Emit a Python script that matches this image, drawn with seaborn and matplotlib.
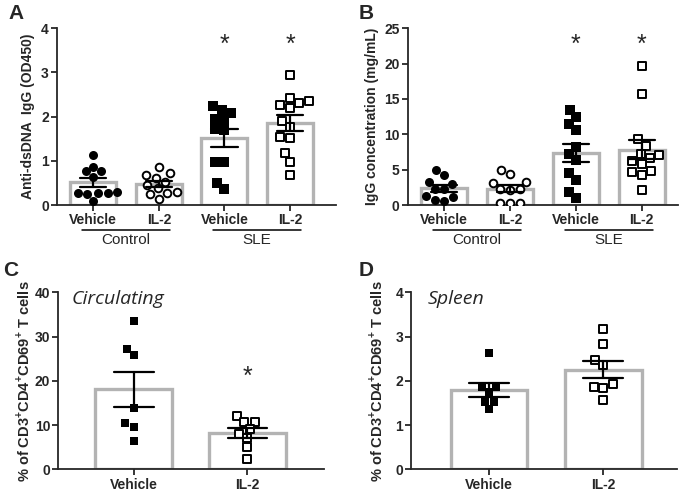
import numpy as np
import pandas as pd
import seaborn as sns
import matplotlib.pyplot as plt

# ---- data ----
groups_ab = ['Control Vehicle', 'Control IL-2', 'SLE Vehicle', 'SLE IL-2']
groups_cd = ['Vehicle', 'IL-2']

# A: anti-dsDNA IgG (OD450)
a_ctrl_veh = [1.13, 0.87, 0.76, 0.76, 0.64, 0.30, 0.28, 0.28, 0.27, 0.26, 0.10]
a_ctrl_il2 = [0.85, 0.72, 0.67, 0.60, 0.53, 0.45, 0.38, 0.30, 0.27, 0.24, 0.14]
a_sle_veh = [2.23, 2.16, 2.08, 1.95, 1.93, 1.72, 1.70, 0.98, 0.98, 0.49, 0.36]
a_sle_il2 = [2.95, 2.42, 2.35, 2.31, 2.27, 2.20, 1.89, 1.77, 1.54, 1.52, 1.17, 0.98, 0.67]

# B: IgG concentration (mg/mL)
b_ctrl_veh = [4.9, 4.2, 3.3, 3.0, 2.3, 2.2, 1.3, 1.2, 0.7, 0.6]
b_ctrl_il2 = [4.9, 4.4, 3.3, 3.1, 2.2, 2.1, 2.2, 0.3, 0.3, 0.3]
b_sle_veh = [13.4, 12.4, 11.4, 10.6, 8.2, 7.2, 6.4, 4.5, 3.6, 1.9, 1.0]
b_sle_il2 = [19.7, 15.7, 9.3, 8.4, 7.2, 7.0, 6.6, 6.2, 5.8, 4.8, 4.6, 4.2, 2.1]

# C: circulating CD69+ T cells (%)
c_veh = [33.5, 27.1, 25.8, 13.9, 10.4, 9.6, 6.5]
c_il2 = [12.1, 10.8, 10.8, 9.1, 7.9, 7.1, 5.0, 2.3]

# D: spleen CD69+ T cells (%)
d_veh = [2.62, 1.87, 1.87, 1.75, 1.53, 1.53, 1.36]
d_il2 = [3.17, 2.83, 2.47, 2.37, 1.92, 1.87, 1.85, 1.57]

sns.set_style('ticks')
plt.rcParams['font.family'] = ['Liberation Sans', 'DejaVu Sans']
plt.rcParams['mathtext.fontset'] = 'custom'
plt.rcParams['mathtext.rm'] = 'Liberation Sans:bold'
plt.rcParams['mathtext.bf'] = 'Liberation Sans:bold'

BAR_EDGE = '#b3b3b3'
# marker style per group position: (marker, filled)
STYLES = [('o', True), ('o', False), ('s', True), ('s', False)]


def make_df(order, series):
    rows = []
    for g, vals in zip(order, series):
        for v in vals:
            rows.append({'group': g, 'val': v})
    return pd.DataFrame(rows)


def draw_panel(ax, order, series, styles, ylim, yticks, ylabel, width, capsize,
               msize, ylab_size=10):
    df = make_df(order, series)
    sns.barplot(data=df, x='group', y='val', order=order, ax=ax,
                color='white', saturation=1, edgecolor=BAR_EDGE, linewidth=2.4,
                width=width, errorbar='se', capsize=capsize,
                err_kws={'color': 'black', 'linewidth': 1.6, 'zorder': 5})
    for g, (mk, filled) in zip(order, styles):
        sub = df[df['group'] == g]
        if filled:
            sns.swarmplot(data=sub, x='group', y='val', order=order, ax=ax,
                          marker=mk, color='black', size=msize, linewidth=0, zorder=3)
        else:
            sns.swarmplot(data=sub, x='group', y='val', order=order, ax=ax,
                          marker=mk, color='white', edgecolor='black',
                          size=msize - 1, linewidth=1.4, zorder=3)
    ax.set_ylim(*ylim)
    ax.set_yticks(yticks)
    ax.set_xlabel('')
    ax.set_ylabel(ylabel, fontsize=ylab_size, fontweight='bold', labelpad=4)
    sns.despine(ax=ax)
    for s in ['left', 'bottom']:
        ax.spines[s].set_linewidth(1.3)
    ax.tick_params(axis='both', width=1.3, length=4, labelsize=10, pad=2)
    for lab in ax.get_yticklabels() + ax.get_xticklabels():
        lab.set_fontweight('bold')


def add_star(ax, xpos, y):
    ax.text(xpos, y, '*', ha='center', va='center', fontsize=18)


def group_lines(ax, names):
    for i, name in enumerate(names):
        c = 2 * i + 0.5
        ax.plot([c - 0.67, c + 0.67], [-0.14, -0.14], color='black', lw=1.1,
                transform=ax.get_xaxis_transform(), clip_on=False)
        ax.text(c, -0.16, name, ha='center', va='top', fontsize=11,
                transform=ax.get_xaxis_transform())


fig = plt.figure(figsize=(6.8, 4.94), dpi=100)

axA = fig.add_axes([0.084, 0.585, 0.41, 0.358])
axB = fig.add_axes([0.600, 0.585, 0.397, 0.358])
axC = fig.add_axes([0.086, 0.050, 0.390, 0.358])
axD = fig.add_axes([0.605, 0.050, 0.390, 0.358])

draw_panel(axA, groups_ab, [a_ctrl_veh, a_ctrl_il2, a_sle_veh, a_sle_il2], STYLES,
           (0, 4), [0, 1, 2, 3, 4], 'Anti-dsDNA  IgG (OD450)', 0.7, 0.4, 6.5)
axA.set_xlim(-0.55, 3.7)
axA.set_xticks(range(4))
axA.set_xticklabels(['Vehicle', 'IL-2', 'Vehicle', 'IL-2'], fontweight='bold')
add_star(axA, 2, 3.63)
add_star(axA, 3, 3.63)
group_lines(axA, ['Control', 'SLE'])

draw_panel(axB, groups_ab, [b_ctrl_veh, b_ctrl_il2, b_sle_veh, b_sle_il2], STYLES,
           (0, 25), [0, 5, 10, 15, 20, 25], 'IgG concentration (mg/mL)', 0.7, 0.4, 6.5)
axB.set_xlim(-0.55, 3.55)
axB.set_xticks(range(4))
axB.set_xticklabels(['Vehicle', 'IL-2', 'Vehicle', 'IL-2'], fontweight='bold')
add_star(axB, 2, 22.6)
add_star(axB, 3, 22.6)
group_lines(axB, ['Control', 'SLE'])

ylab_cd = '% of CD3$^{+}$CD4$^{+}$CD69$^{+}$ T cells'
draw_panel(axC, groups_cd, [c_veh, c_il2], [STYLES[2], STYLES[3]],
           (0, 40), [0, 10, 20, 30, 40], ylab_cd, 0.67, 0.35, 6.2, ylab_size=10.5)
axC.set_xlim(-0.66, 1.67)
axC.set_xticklabels(groups_cd, fontweight='bold')
axC.yaxis.set_label_coords(-0.098, 0.5)
add_star(axC, 1, 20.8)
axC.text(0.05, 0.965, 'Circulating', transform=axC.transAxes, ha='left', va='center',
         fontsize=14, style='italic', family=['Open Sans', 'DejaVu Sans'])

draw_panel(axD, groups_cd, [d_veh, d_il2], [STYLES[2], STYLES[3]],
           (0, 4), [0, 1, 2, 3, 4], ylab_cd, 0.67, 0.35, 6.2, ylab_size=10.5)
axD.set_xlim(-0.68, 1.64)
axD.set_xticklabels(groups_cd, fontweight='bold')
axD.yaxis.set_label_coords(-0.098, 0.5)
axD.text(0.06, 0.965, 'Spleen', transform=axD.transAxes, ha='left', va='center',
         fontsize=14, style='italic', family=['Open Sans', 'DejaVu Sans'])

for lab, x, y in [('A', 0.012, 0.972), ('B', 0.528, 0.972),
                  ('C', 0.004, 0.453), ('D', 0.527, 0.453)]:
    fig.text(x, y, lab, fontsize=15, fontweight='bold', ha='left', va='center')

fig.savefig('out.png', dpi=100)
